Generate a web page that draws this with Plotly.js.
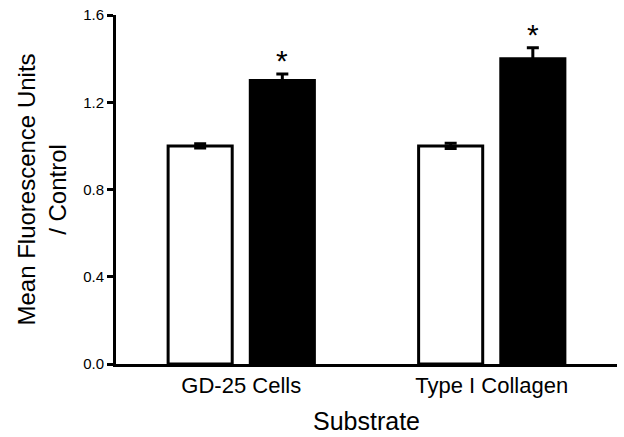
<!DOCTYPE html>
<html>
<head>
<meta charset="utf-8">
<script src="https://cdn.plot.ly/plotly-3.0.1.min.js"></script>
<style>
  html, body { margin: 0; padding: 0; background: #fff; }
  #chart { width: 624px; height: 437px; }
</style>
</head>
<body>
<div id="chart"></div>
<script>
var substrates = ['GD-25 Cells', 'Type I Collagen'];
var controlValues = [1.0, 1.0];
var controlErrors = [0.01, 0.012];
var treatedValues = [1.30, 1.40];
var treatedErrors = [0.03, 0.05];
var starLabels = ['*', '*'];

var font = 'Liberation Sans, Arial, sans-serif';

var controlTrace = {
    x: substrates,
    y: controlValues,
    type: 'bar',
    name: 'Control',
    marker: { color: '#ffffff', line: { color: '#000000', width: 3 } },
    error_y: { type: 'data', array: controlErrors, visible: true, color: '#000000', thickness: 3, width: 6 }
};

var treatedTrace = {
    x: substrates,
    y: treatedValues,
    type: 'bar',
    name: 'Treated',
    marker: { color: '#000000', line: { color: '#000000', width: 3 } },
    error_y: { type: 'data', array: treatedErrors, visible: true, color: '#000000', thickness: 3, width: 6 }
};

// asterisks above the treated bars
var annotations = substrates.map(function (s, i) {
    return {
        x: s,
        y: treatedValues[i] + treatedErrors[i],
        xref: 'x',
        yref: 'y',
        xshift: 41,
        yshift: 13,
        text: starLabels[i],
        showarrow: false,
        font: { family: font, size: 30, color: '#000' }
    };
});

var layout = {
    width: 624,
    height: 437,
    margin: { t: 15, l: 116, r: 7, b: 73 },
    paper_bgcolor: '#fff',
    plot_bgcolor: '#fff',
    showlegend: false,
    barmode: 'group',
    bargap: 0.344,
    bargroupgap: 0.22,
    font: { family: font, color: '#000' },
    xaxis: {
        type: 'category',
        range: [-0.5, 1.5],
        showline: true,
        linecolor: '#000',
        linewidth: 3,
        ticks: '',
        showgrid: false,
        zeroline: false,
        tickfont: { family: font, size: 22, color: '#000' },
        title: { text: 'Substrate', font: { family: font, size: 25, color: '#000' }, standoff: 16 }
    },
    yaxis: {
        range: [0, 1.6],
        dtick: 0.4,
        tick0: 0,
        tickformat: '.1f',
        showline: true,
        linecolor: '#000',
        linewidth: 3,
        ticks: 'outside',
        ticklen: 6,
        tickwidth: 3,
        tickcolor: '#000',
        showgrid: false,
        zeroline: false,
        tickfont: { family: font, size: 15, color: '#000' },
        title: {
            text: 'Mean Fluorescence Units<br>/ Control',
            font: { family: font, size: 24, color: '#000' },
            standoff: 10
        }
    },
    annotations: annotations
};

Plotly.newPlot('chart', [controlTrace, treatedTrace], layout, { displayModeBar: false, staticPlot: true });
</script>
</body>
</html>
